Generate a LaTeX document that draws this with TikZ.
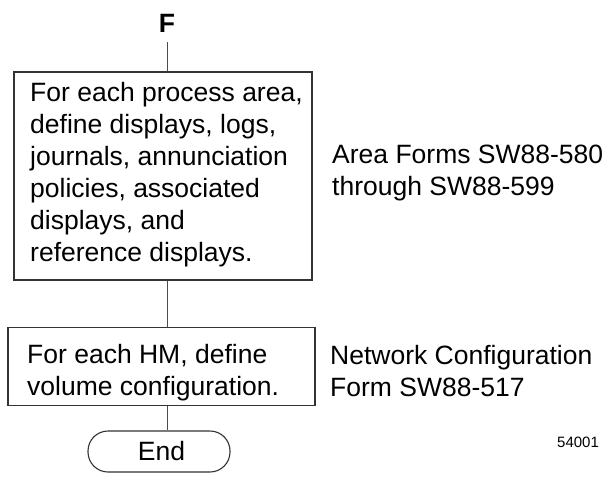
\documentclass[tikz,border=0pt]{standalone}
\usepackage{fontspec}
\setmainfont{Liberation Sans}
\begin{document}
\begin{tikzpicture}[x=1pt,y=-1pt,
  stepbox/.style={draw=black!80, line width=1.2pt, inner sep=0pt},
  endbox/.style={draw=black!80, line width=1.1pt, rounded corners=20pt, inner sep=0pt},
  txt/.style={inner sep=0pt, align=left, font=\fontsize{26.5}{32}\selectfont},
  small/.style={inner sep=0pt, font=\fontsize{15}{18}\selectfont},
  link/.style={draw=black!70, line width=1pt}]
\useasboundingbox (0,0) rectangle (605,482);

% entry connector
\node[inner sep=0pt, anchor=base, font=\fontsize{26.5}{32}\selectfont\bfseries] (F) at (167,32) {F};

% area definition step (multi-line nodes are placed by their last baseline)
\node[stepbox, minimum width=298pt, minimum height=208pt] (area) at (163,176) {};
\node[txt, anchor=base west] (areatext) at (30,261.7)
  {For each process area,\\define displays, logs,\\journals, annunciation\\policies, associated\\displays, and\\reference displays.};
\node[txt, anchor=base west] (areaform) at (332,195) {Area Forms SW88-580\\through SW88-599};

% HM volume step
\node[stepbox, minimum width=307pt, minimum height=78pt] (hm) at (161.5,366.5) {};
\node[txt, anchor=base west] (hmtext) at (27,395) {For each HM, define\\volume configuration.};
\node[txt, anchor=base west] (hmform) at (330,396.7) {Network Configuration\\Form SW88-517};

% terminator
\node[endbox, minimum width=142pt, minimum height=41pt] (end) at (159,451.5) {};
\node[txt] (endtext) at (161.5,451.5) {End};

\node[small, anchor=base west] (code) at (557,447) {54001};

% connectors
\coordinate (Fout) at ([yshift=-10pt]F.base);
\draw[link] (Fout) -- (Fout |- area.north);
\draw[link] (Fout |- area.south) -- (Fout |- hm.north);
\draw[link] (Fout |- hm.south) -- (Fout |- end.north);
\end{tikzpicture}
\end{document}
